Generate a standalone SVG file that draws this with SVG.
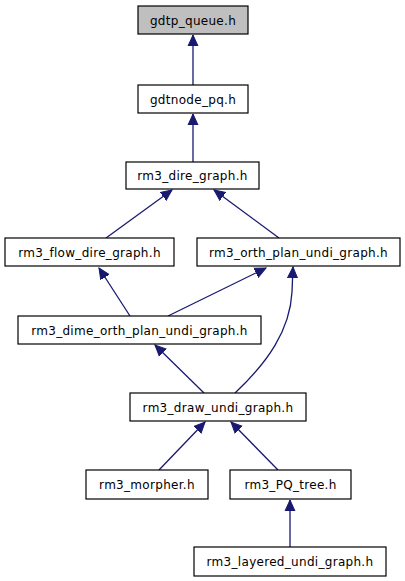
<svg xmlns="http://www.w3.org/2000/svg" width="405" height="581" viewBox="0 0 405 581">
<style>
.n rect{fill:#fff;stroke:#000;stroke-width:1.2}
.n.root rect{fill:#bfbfbf}
.n text{font-family:"DejaVu Sans",sans-serif;font-size:12px;letter-spacing:0.3px;text-anchor:middle;fill:#000}
.e path{fill:none;stroke:#191970;stroke-width:1.3;marker-end:url(#ah)}
</style>
<defs>
<marker id="ah" markerUnits="userSpaceOnUse" markerWidth="12" markerHeight="12" viewBox="0 0 12 10" refX="11" refY="5" orient="auto">
<path d="M0,0 L11,5 L0,10 Z" fill="#191970" stroke="#191970"/>
</marker>
</defs>
<rect width="405" height="581" fill="#fff"/>
<g id="edges" class="e">
<path d="M193,85 L193,35"/>
<path d="M193,162 L193,114"/>
<path d="M106,238 L172,190"/>
<path d="M279,238 L214,190"/>
<path d="M130,316 L99,268"/>
<path d="M168,316 L266,268"/>
<path d="M204,393 L155,345"/>
<path d="M235,393 C268,362 290,330 292,292 L293,267"/>
<path d="M159,470 L205,422"/>
<path d="M278,470 L231,422"/>
<path d="M290,547 L290,500"/>
</g>
<g id="gdtp_queue" class="n root"><rect x="138" y="6" width="110" height="28"/><text x="193" y="24.5">gdtp_queue.h</text></g>
<g id="gdtnode_pq" class="n"><rect x="138" y="85" width="110" height="28"/><text x="193" y="103.5">gdtnode_pq.h</text></g>
<g id="rm3_dire_graph" class="n"><rect x="126" y="162" width="133" height="27"/><text x="192.5" y="180">rm3_dire_graph.h</text></g>
<g id="rm3_flow_dire_graph" class="n"><rect x="5" y="238" width="169" height="28"/><text x="89.5" y="256.5">rm3_flow_dire_graph.h</text></g>
<g id="rm3_orth_plan_undi_graph" class="n"><rect x="197" y="238" width="203" height="28"/><text x="298.5" y="256.5">rm3_orth_plan_undi_graph.h</text></g>
<g id="rm3_dime_orth_plan_undi_graph" class="n"><rect x="18" y="316" width="243" height="28"/><text x="139.5" y="334.5">rm3_dime_orth_plan_undi_graph.h</text></g>
<g id="rm3_draw_undi_graph" class="n"><rect x="130" y="393" width="176" height="28"/><text x="218" y="411.5">rm3_draw_undi_graph.h</text></g>
<g id="rm3_morpher" class="n"><rect x="86" y="470" width="122" height="29"/><text x="147" y="489">rm3_morpher.h</text></g>
<g id="rm3_PQ_tree" class="n"><rect x="230" y="470" width="121" height="29"/><text x="290.5" y="489">rm3_PQ_tree.h</text></g>
<g id="rm3_layered_undi_graph" class="n"><rect x="194" y="547" width="192" height="29"/><text x="290" y="566">rm3_layered_undi_graph.h</text></g>
</svg>
